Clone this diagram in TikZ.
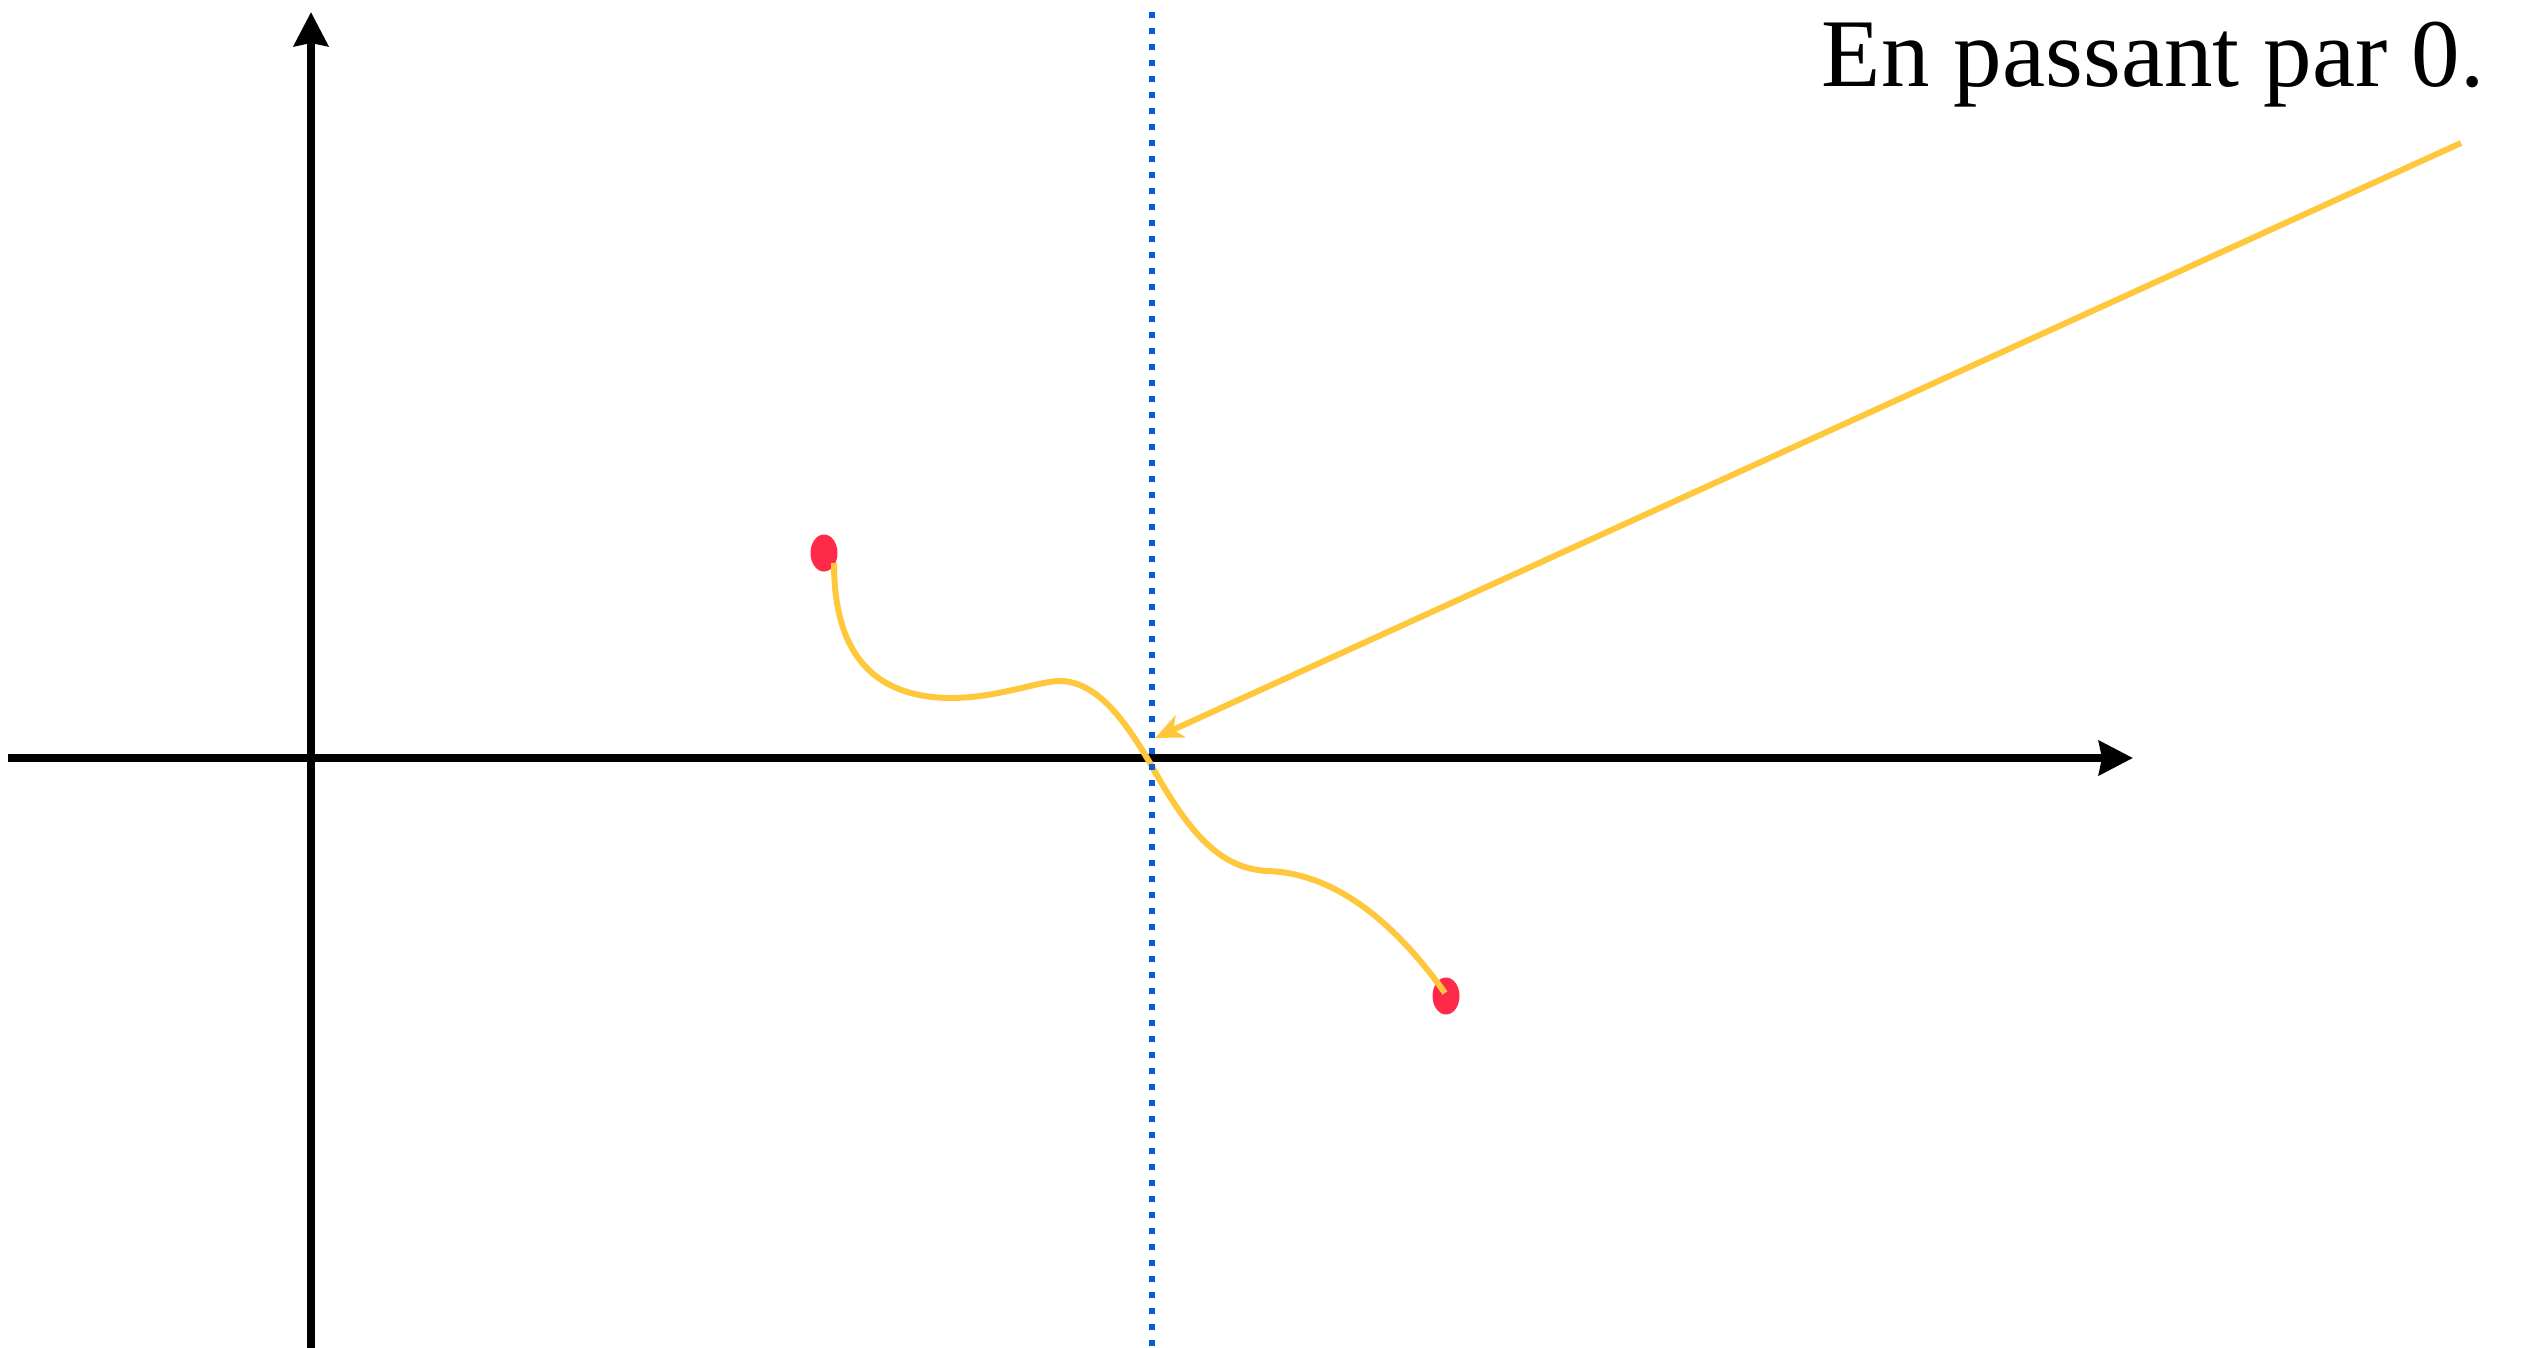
\documentclass[tikz,border=0pt]{standalone}
\usepackage{fontspec}
\setmainfont{Liberation Serif}
\usetikzlibrary{arrows.meta,shapes.geometric}
\definecolor{dotred}{RGB}{255,42,74}
\definecolor{curveyellow}{RGB}{255,200,60}
\definecolor{lineblue}{RGB}{10,90,220}
\begin{document}
\begin{tikzpicture}[x=0.5pt,y=-0.5pt,
  axis/.style={line width=4pt,-{Stealth[length=17pt,width=17pt,inset=1.5pt]}},
  reddot/.style={ellipse,fill=dotred,draw=none,minimum width=13.5pt,minimum height=18.5pt,inner sep=0pt},
  pathcurve/.style={curveyellow,line width=3pt},
  pointer/.style={curveyellow,line width=3pt,-{Stealth[length=14pt,width=12pt,inset=4pt]}},
  guide/.style={lineblue,line width=3pt,dash pattern=on 3pt off 5pt},
  caption/.style={font=\fontsize{48.5}{56}\selectfont,inner sep=0pt,anchor=base east}]
\useasboundingbox (0,0) rectangle (2525,1348);
% axes
\coordinate (xs) at (8,758);
\coordinate (xe) at (2133,758);
\coordinate (ys) at (311,1348);
\coordinate (ye) at (311,12);
\draw[axis] (xs) -- (xe);
\draw[axis] (ys) -- (ye);
% red dots
\node[reddot] (d1) at (824,553) {};
\node[reddot] (d2) at (1446,996) {};
% yellow curve
\coordinate (c0) at (834,563);
\coordinate (c1) at (950,698);
\coordinate (c2) at (1063,681);
\coordinate (c3) at (1150,763);
\coordinate (c4) at (1267,871);
\coordinate (c5) at (1445,993);
\draw[pathcurve] (c0) .. controls (834,650) and (870,697) .. (c1)
  .. controls (1000,698) and (1040,680) .. (c2)
  .. controls (1095,684) and (1120,712) .. (c3)
  .. controls (1190,835) and (1220,868) .. (c4)
  .. controls (1340,873) and (1400,930) .. (c5);
% blue dotted guide
\coordinate (gt) at (1152,12);
\coordinate (gb) at (1152,1348);
\draw[guide] (gt) -- (gb);
% pointer arrow
\coordinate (ps) at (2461,143);
\coordinate (pe) at (1155,738);
\draw[pointer] (ps) -- (pe);
% caption
\node[caption] (cap) at (2485,87) {En passant par 0.};
\end{tikzpicture}
\end{document}
